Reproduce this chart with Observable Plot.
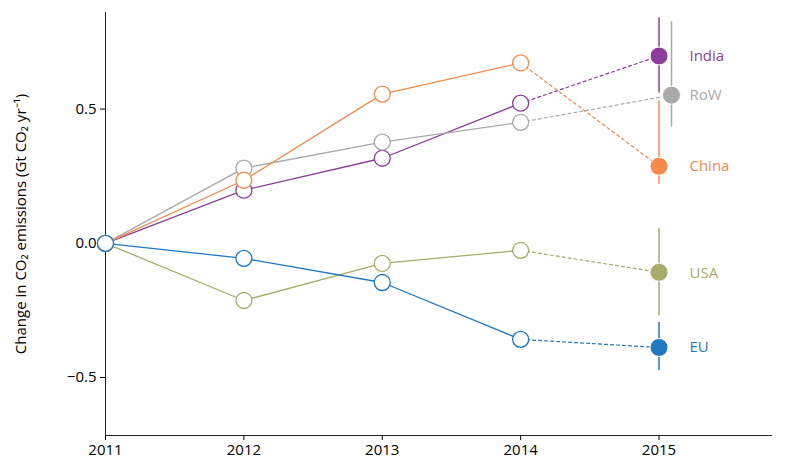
<!DOCTYPE html>
<html><head><meta charset="utf-8">
<script src="https://cdn.jsdelivr.net/npm/d3@7"></script>
<script src="https://cdn.jsdelivr.net/npm/@observablehq/plot@0.6"></script>
<style>body{margin:0;background:#fff;font-family:"Open Sans",sans-serif}</style>
</head><body><div id="c"></div>
<script>
const years=[2011,2012,2013,2014];
const regions=["India","RoW","China","USA","EU"];
const colors=["#8b3f98","#a7a9ab","#f58a4b","#a8ab6a","#1f78c1"];
const hist={India:[0,0.198,0.317,0.522],RoW:[0,0.28,0.377,0.451],China:[0,0.235,0.556,0.672],USA:[0,-0.213,-0.075,-0.026],EU:[0,-0.056,-0.146,-0.358]};
const est2015=[0.698,0.552,0.287,-0.108,-0.388];
const estX=[2015,2015.09,2015,2015,2015];
const errLo=[0.56,0.433,0.22,-0.27,-0.474];
const errHi=[0.84,0.825,0.53,0.055,-0.295];
const labelY=[0.698,0.552,0.287,-0.11,-0.388];

const pts=[],dash=[],est=[];
regions.forEach((r,i)=>{
  years.forEach((y,j)=>pts.push({r,x:y,y:hist[r][j]}));
  dash.push({r,x:2014,y:hist[r][3]},{r,x:estX[i],y:est2015[i]});
  est.push({r,x:estX[i],y:est2015[i],lo:errLo[i],hi:errHi[i],ly:labelY[i]});
});
const col={domain:regions,range:colors};
const p=Plot.plot({
  width:788,height:475,marginLeft:105,marginRight:16,marginTop:12,marginBottom:40,
  style:{fontFamily:"Open Sans",fontSize:"15px"},
  color:col,
  x:{domain:[2011,2015.82],ticks:[2011,2012,2013,2014,2015],tickFormat:d=>String(d),label:null,tickSize:5},
  y:{domain:[-0.716,0.86],ticks:[-0.5,0,0.5],tickFormat:d=>d<0?"−"+Math.abs(d).toFixed(1):d.toFixed(1),label:"Change in CO₂ emissions (Gt CO₂ yr⁻¹)",labelAnchor:"center",labelArrow:"none",labelOffset:90,tickSize:5},
  marks:[
    Plot.ruleX([2011],{stroke:"#222"}),
    Plot.ruleY([-0.716],{stroke:"#222"}),
    Plot.line(dash,{x:"x",y:"y",z:"r",stroke:"r",strokeDasharray:"3,3",strokeWidth:1.2}),
    Plot.line(pts,{x:"x",y:"y",z:"r",stroke:"r",strokeWidth:1.3}),
    Plot.ruleX(est,{x:"x",y1:"lo",y2:"hi",stroke:"r",strokeWidth:1.5}),
    Plot.dot(pts,{x:"x",y:"y",stroke:"r",fill:"white",r:8,strokeWidth:1.3}),
    Plot.dot(est,{x:"x",y:"y",fill:"r",stroke:"white",r:9,strokeWidth:1}),
    Plot.text(est,{x:2015.22,y:"ly",text:"r",fill:"r",textAnchor:"start",fontSize:15})
  ]
});
document.getElementById("c").append(p);
</script></body></html>
